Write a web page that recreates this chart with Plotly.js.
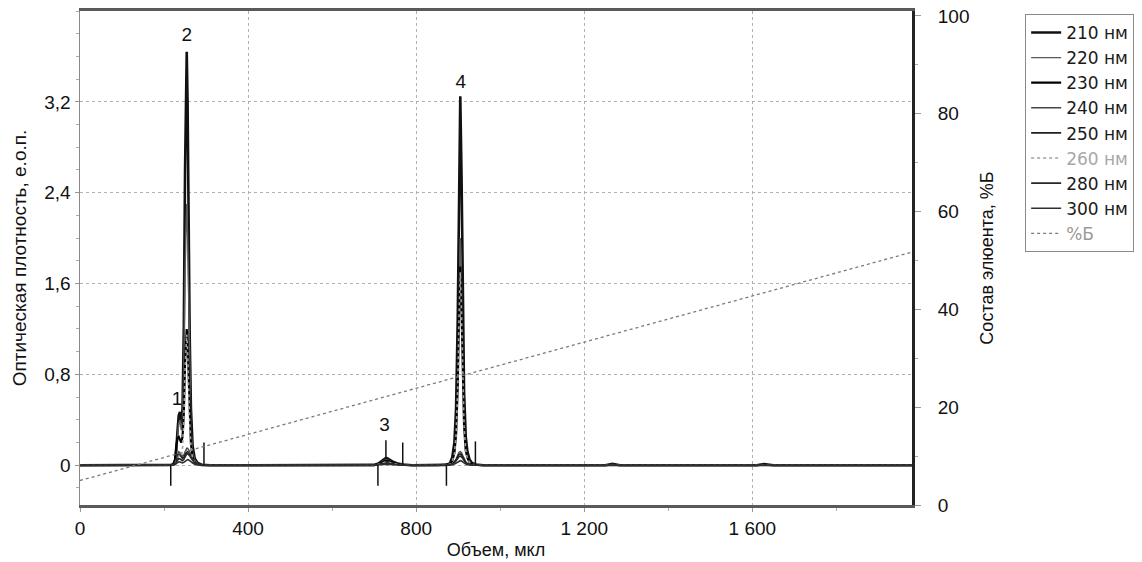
<!DOCTYPE html>
<html>
<head>
<meta charset="utf-8">
<script src="https://cdn.plot.ly/plotly-3.0.1.min.js"></script>
<style>
  html, body { margin: 0; padding: 0; background: #ffffff; }
  #chart { width: 1142px; height: 562px; }
</style>
</head>
<body>
<div id="chart"></div>
<script>
// ---- data ----
const vol = [0,100,200,215,222,226,229,232,235,238,241,244,247,250,252,254,256,258,261,264,268,273,280,290,310,400,600,690,700,710,718,724,728,732,738,746,756,770,790,850,870,880,886,891,895,899,902,905,908,911,914,918,922,927,933,942,960,1100,1250,1267,1285,1500,1610,1628,1650,1800,1980];

const od210 = [0,0,0,
  0,0.005,0.03,0.12,0.3,0.44,0.47,0.36,0.5,1.2,2.6,3.35,3.64,3.2,2.3,1.15,0.5,0.17,0.06,0.02,0.005,0,
  0,0,
  0,0.003,0.015,0.04,0.058,0.065,0.06,0.045,0.028,0.015,0.006,0,
  0,0.003,0.015,0.07,0.2,0.5,1.3,2.5,3.25,2.55,1.45,0.65,0.25,0.12,0.05,0.02,0.006,0,
  0,0,0.012,0,0,0,0.01,0,0,0];
const od220 = [0,0,0,
  0,0.004,0.025,0.1,0.25,0.37,0.4,0.31,0.4,0.85,1.7,2.15,2.3,2.05,1.5,0.75,0.33,0.12,0.045,0.015,0.004,0,
  0,0,
  0,0.002,0.012,0.03,0.045,0.05,0.047,0.036,0.022,0.012,0.005,0,
  0,0.002,0.01,0.045,0.12,0.31,0.8,1.55,2.0,1.57,0.9,0.4,0.15,0.07,0.03,0.012,0.004,0,
  0,0,0.008,0,0,0,0.006,0,0,0];
const od230 = [0,0,0,
  0,0.01,0.05,0.17,0.24,0.25,0.23,0.2,0.25,0.45,0.9,1.12,1.2,1.08,0.8,0.42,0.19,0.07,0.025,0.008,0.002,0,
  0,0,
  0,0.002,0.01,0.025,0.036,0.04,0.038,0.03,0.018,0.01,0.004,0,
  0,0.002,0.008,0.04,0.11,0.27,0.7,1.35,1.75,1.37,0.78,0.35,0.13,0.065,0.027,0.01,0.003,0,
  0,0,0.006,0,0,0,0.005,0,0,0];
const od240 = [0,0,0,
  0,0.005,0.02,0.06,0.1,0.12,0.11,0.09,0.08,0.09,0.12,0.14,0.15,0.15,0.14,0.12,0.09,0.055,0.03,0.012,0.004,0,
  0,0,
  0,0.001,0.007,0.018,0.027,0.03,0.028,0.022,0.014,0.008,0.003,0,
  0,0.001,0.004,0.012,0.03,0.055,0.09,0.115,0.12,0.11,0.085,0.055,0.03,0.015,0.007,0.003,0.001,0,
  0,0,0.004,0,0,0,0.004,0,0,0];
const od250 = [0,0,0,
  0,0.004,0.015,0.05,0.08,0.1,0.09,0.07,0.06,0.07,0.09,0.11,0.12,0.12,0.115,0.1,0.075,0.045,0.025,0.01,0.003,0,
  0,0,
  0,0.001,0.006,0.017,0.026,0.03,0.029,0.023,0.015,0.008,0.003,0,
  0,0.001,0.003,0.01,0.025,0.045,0.075,0.095,0.1,0.092,0.07,0.045,0.025,0.012,0.006,0.002,0.001,0,
  0,0,0.003,0,0,0,0.003,0,0,0];
const od260 = [0,0,0,
  0,0,0.01,0.03,0.06,0.08,0.08,0.08,0.15,0.4,0.85,1.07,1.15,1.02,0.74,0.38,0.17,0.06,0.02,0.006,0.002,0,
  0,0,
  0,0.001,0.006,0.016,0.025,0.029,0.028,0.022,0.014,0.008,0.003,0,
  0,0.002,0.008,0.038,0.1,0.26,0.68,1.3,1.7,1.33,0.76,0.34,0.13,0.06,0.026,0.01,0.003,0,
  0,0,0.003,0,0,0,0.002,0,0,0];
const od280 = [0,0,0,
  0,0.003,0.01,0.03,0.05,0.06,0.055,0.045,0.04,0.05,0.07,0.09,0.1,0.1,0.095,0.085,0.065,0.04,0.02,0.008,0.002,0,
  0,0,
  0,0.001,0.004,0.011,0.017,0.02,0.019,0.015,0.01,0.005,0.002,0,
  0,0.001,0.003,0.008,0.02,0.036,0.06,0.076,0.08,0.074,0.056,0.036,0.02,0.01,0.005,0.002,0,0,
  0,0,0.002,0,0,0,0.002,0,0,0];
const od300 = [0,0,0,
  0,0.001,0.005,0.015,0.025,0.03,0.028,0.022,0.02,0.025,0.035,0.045,0.05,0.05,0.048,0.042,0.032,0.02,0.01,0.004,0.001,0,
  0,0,
  0,0,0.002,0.006,0.009,0.01,0.01,0.008,0.005,0.003,0.001,0,
  0,0,0.001,0.004,0.01,0.018,0.03,0.038,0.04,0.037,0.028,0.018,0.01,0.005,0.002,0.001,0,0,
  0,0,0.001,0,0,0,0.001,0,0,0];

// eluent gradient (%B, right axis)
const gradX = [0, 1980];
const gradB = [5, 51.7];

// integration marks (start/end of peaks)
const markX  = [216, 295, 709, 728, 768, 872, 941];
const markY0 = [0, 0, 0, 0.07, 0, 0, 0];
const markY1 = [-0.18, 0.2, -0.18, 0.22, 0.2, -0.18, 0.21];

// peak numbers
const peakText = ['1', '2', '3', '4'];
const peakX = [231, 254, 725, 906];
const peakY = [0.57, 3.78, 0.34, 3.36];

// names and tick labels
const waveNames = ['210 нм', '220 нм', '230 нм', '240 нм', '250 нм', '260 нм', '280 нм', '300 нм'];
const gradName = '%Б';
const xTickVals = [0, 400, 800, 1200, 1600];
const xTickText = ['0', '400', '800', '1 200', '1 600'];
const yTickVals = [0, 0.8, 1.6, 2.4, 3.2];
const yTickText = ['0', '0,8', '1,6', '2,4', '3,2'];
const y2TickVals = [0, 20, 40, 60, 80, 100];
const y2TickText = ['0', '20', '40', '60', '80', '100'];

// ---- styles ----
const series = [od210, od220, od230, od240, od250, od260, od280, od300];
const styles = [
  {color: '#111111', width: 2.6},
  {color: '#5a5a5a', width: 1.4},
  {color: '#000000', width: 2.2},
  {color: '#474747', width: 1.4},
  {color: '#202020', width: 1.6},
  {color: '#a0a0a0', width: 1.6, dash: 'dot'},
  {color: '#262626', width: 1.6},
  {color: '#303030', width: 1.6}
];
const FONT = 'Liberation Sans, Arial, sans-serif';

const traces = series.map((s, i) => ({
  type: 'scatter', mode: 'lines',
  x: vol, y: s,
  name: i === 5 ? '<span style="color:#a8a8a8">' + waveNames[i] + '</span>' : waveNames[i],
  line: styles[i],
  hoverinfo: 'skip'
}));

traces.push({
  type: 'scatter', mode: 'lines',
  x: gradX, y: gradB, yaxis: 'y2',
  name: '<span style="color:#9a9a9a">' + gradName + '</span>',
  line: {color: '#7a7a7a', width: 1.3, dash: 'dot'},
  hoverinfo: 'skip'
});

const mx = [], my = [];
markX.forEach((x, i) => { mx.push(x, x, null); my.push(markY0[i], markY1[i], null); });
traces.push({
  type: 'scatter', mode: 'lines', x: mx, y: my,
  line: {color: '#111', width: 1.5}, showlegend: false, hoverinfo: 'skip'
});

traces.push({
  type: 'scatter', mode: 'text', x: peakX, y: peakY, text: peakText,
  textposition: 'middle center',
  textfont: {family: FONT, size: 19, color: '#111'},
  showlegend: false, hoverinfo: 'skip'
});

const layout = {
  width: 1142, height: 562,
  margin: {l: 80, r: 230, t: 11, b: 57, autoexpand: false},
  paper_bgcolor: '#ffffff', plot_bgcolor: '#ffffff',
  font: {family: FONT, size: 19, color: '#111'},
  showlegend: true,
  legend: {
    x: 1.136, y: 0.994, xanchor: 'left', yanchor: 'top',
    bgcolor: '#ffffff', bordercolor: '#8a8a8a', borderwidth: 1,
    font: {family: 'DejaVu Sans, Verdana, sans-serif', size: 17, color: '#1a1a1a'},
    itemwidth: 30, traceorder: 'normal'
  },
  xaxis: {
    range: [0, 1980],
    tickmode: 'array', tickvals: xTickVals, ticktext: xTickText,
    showgrid: true, gridcolor: '#b0b0b0', griddash: 'dot', gridwidth: 1,
    zeroline: false,
    showline: true, linecolor: '#5a5a5a', linewidth: 3, mirror: true,
    ticks: 'outside', ticklen: 4, tickcolor: '#999',
    minor: {tickmode: 'linear', tick0: 0, dtick: 200, ticks: 'outside', ticklen: 3, tickcolor: '#aaa'},
    tickfont: {family: FONT, size: 19, color: '#111'},
    title: {text: 'Объем, мкл', font: {family: FONT, size: 18, color: '#111'}, standoff: 6}
  },
  yaxis: {
    range: [-0.35, 4.0],
    tickmode: 'array', tickvals: yTickVals, ticktext: yTickText,
    showgrid: true, gridcolor: '#b0b0b0', griddash: 'dot', gridwidth: 1,
    zeroline: false,
    showline: true, linecolor: '#8a8a8a', linewidth: 1.5,
    ticks: 'outside', ticklen: 4, tickcolor: '#999',
    minor: {tickmode: 'linear', tick0: 0, dtick: 0.2, ticks: 'outside', ticklen: 3, tickcolor: '#aaa'},
    tickfont: {family: FONT, size: 19, color: '#111'},
    title: {text: 'Оптическая плотность, е.о.п.', font: {family: FONT, size: 19, color: '#111'}, standoff: 12}
  },
  yaxis2: {
    overlaying: 'y', side: 'right',
    range: [0, 101],
    tickmode: 'array', tickvals: y2TickVals, ticktext: y2TickText,
    showgrid: false, zeroline: false,
    showline: true, linecolor: '#222', linewidth: 3,
    ticks: 'outside', ticklen: 6, tickcolor: '#999',
    minor: {tickmode: 'linear', tick0: 0, dtick: 10, ticks: 'outside', ticklen: 3, tickcolor: '#aaa'},
    ticklabelstandoff: 13,
    tickfont: {family: FONT, size: 19, color: '#111'},
    title: {text: 'Состав элюента, %Б', font: {family: FONT, size: 18, color: '#111'}, standoff: 12}
  }
};

Plotly.newPlot('chart', traces, layout, {displayModeBar: false, staticPlot: true});
</script>
</body>
</html>
